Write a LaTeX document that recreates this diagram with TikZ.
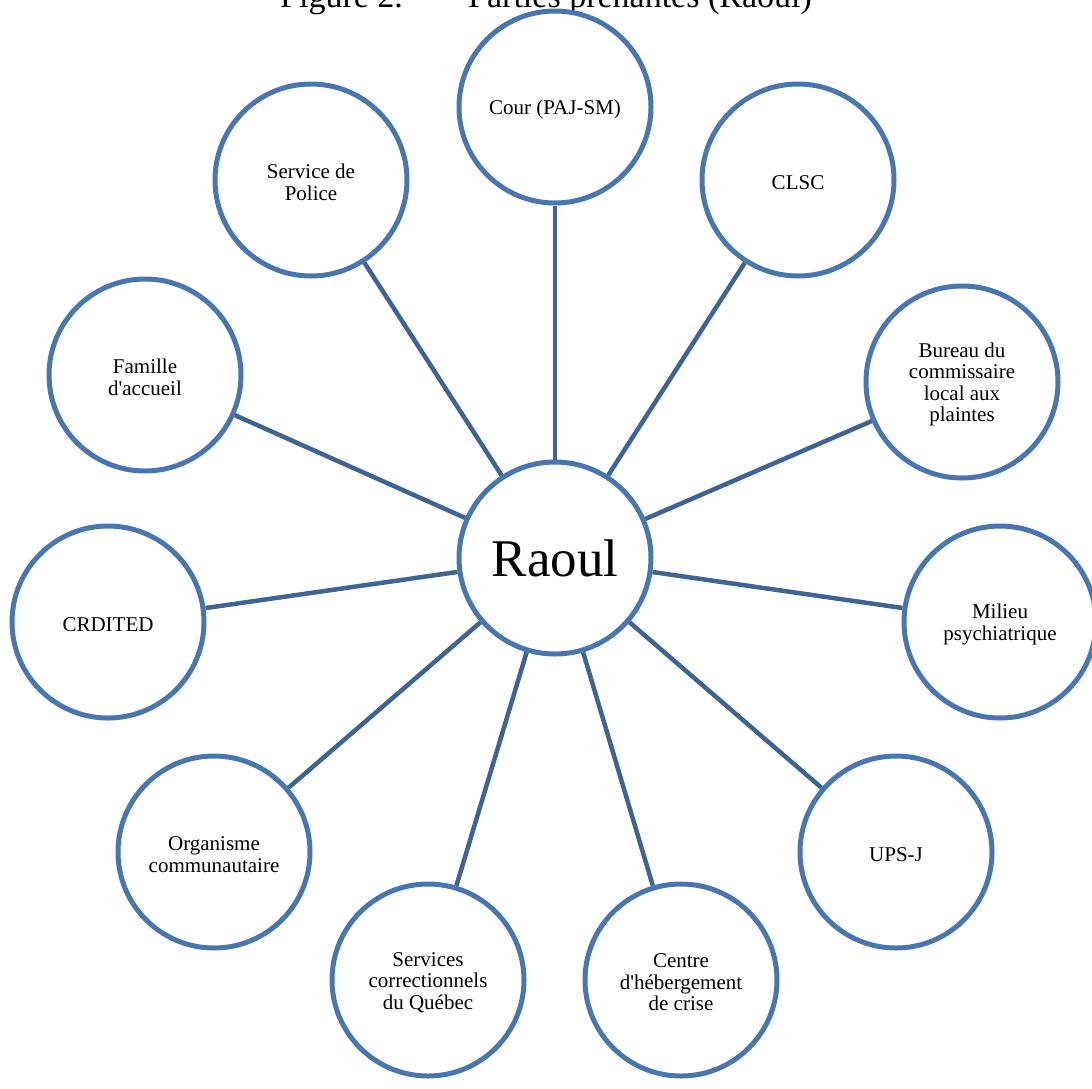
\documentclass[tikz,border=0pt]{standalone}
\usepackage{fontspec}
\setmainfont{Liberation Serif}
\definecolor{circblue}{HTML}{4776B0}
\definecolor{linkblue}{HTML}{3D6494}
\newcommand{\apos}{\textquotesingle}
\begin{document}
\begin{tikzpicture}[x=1pt,y=-1pt,
  party/.style={circle, draw=circblue, line width=5pt, minimum size=192pt,
    inner sep=0pt, fill=white},
  partytext/.style={inner sep=0pt, align=center, yshift=-2.5pt,
    font=\fontsize{21}{21.6}\selectfont},
  link/.style={draw=linkblue, line width=4.5pt},
  heading/.style={anchor=base west, inner sep=0pt, font=\fontsize{34}{40}\selectfont}]
\useasboundingbox (0,0) rectangle (1092,1088);

% caption (partly above the page edge)
\node[heading] (figno) at (280,7) {Figure 2.};
\node[heading] (figttl) at (468,7) {Parties prenantes (Raoul)};

% central person
\node[party] (raoul) at (555,558) {};
\node[font=\fontsize{53}{60}\selectfont, inner sep=0pt] (raoul-t) at (raoul.center) {Raoul};

% stakeholders
\foreach \n/\x/\y/\t in {
    cour/555/107/{Cour (PAJ-SM)},
    clsc/798/180/{CLSC},
    police/311/180/{Service de\\Police},
    famille/145/375/{Famille\\d\apos accueil},
    bureau/962/382/{Bureau du\\commissaire\\local aux\\plaintes},
    crdited/108/622/{CRDITED},
    milieu/1000/622/{Milieu\\psychiatrique},
    orga/214/852/{Organisme\\communautaire},
    upsj/896/852/{UPS-J},
    correc/428/980/{Services\\correctionnels\\du Québec},
    crise/681/980/{Centre\\d\apos hébergement\\de crise}}
{
  \node[party] (\n) at (\x,\y) {};
  \node[partytext] (\n-t) at (\n.center) {\t};
}

% links to the centre
\foreach \n in {cour,clsc,police,famille,bureau,crdited,milieu,orga,upsj,correc,crise}
  \draw[link] (raoul) -- (\n);
\end{tikzpicture}
\end{document}
